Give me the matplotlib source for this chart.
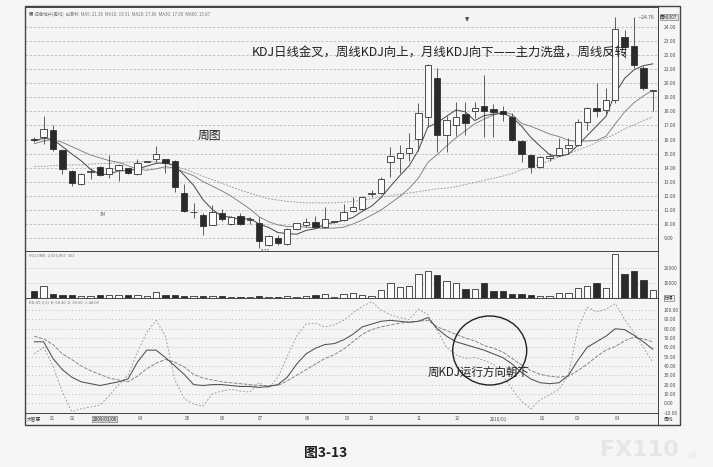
import numpy as np
import matplotlib.pyplot as plt
from matplotlib.patches import Rectangle, Ellipse
from matplotlib.lines import Line2D

plt.rcParams['font.family'] = ['Noto Sans CJK SC', 'DejaVu Sans']

# weekly candles
opens = [16.05, 16.2, 16.68, 15.26, 13.77, 12.84, 13.7, 14.03, 13.55, 13.84,
         13.96, 13.55, 14.42, 14.6, 14.6, 14.5, 12.18, 10.83, 10.64, 9.93,
         10.76, 10.0, 10.57, 10.27, 10.05, 8.51, 9.03, 8.58, 9.64, 9.91,
         10.12, 9.8, 10.15, 10.28, 10.92, 11.06, 12.15, 12.22, 14.43, 14.67,
         15.02, 16.02, 17.62, 20.35, 16.32, 17.03, 17.82, 18.03, 18.39, 18.17,
         18.03, 17.62, 15.9, 14.9, 14.03, 14.67, 14.9, 15.38, 15.61, 17.23,
         18.22, 18.1, 18.81, 23.27, 22.67, 21.11, 19.45]
highs = [16.2, 17.67, 17.03, 15.35, 13.85, 13.6, 13.96, 14.1, 14.9, 14.25,
         14.0, 14.6, 14.48, 15.56, 14.65, 14.55, 12.84, 11.5, 10.75, 11.35,
         11.1, 10.6, 10.8, 10.5, 10.5, 9.25, 9.2, 9.7, 10.1, 10.4,
         10.6, 11.23, 10.2, 11.45, 11.9, 12.0, 12.4, 13.36, 15.5, 15.6,
         16.44, 18.6, 21.35, 21.07, 17.7, 18.69, 18.69, 18.69, 20.59, 18.5,
         18.4, 17.9, 15.95, 14.95, 14.85, 15.05, 16.13, 16.1, 17.45, 18.3,
         20.0, 19.69, 24.69, 23.8, 24.73, 21.2, 19.5]
lows = [15.8, 15.68, 15.2, 13.55, 12.7, 12.75, 13.2, 13.4, 13.27, 13.08,
        13.55, 13.5, 14.4, 14.4, 13.64, 12.3, 10.85, 10.4, 9.22, 9.9,
        10.2, 9.95, 9.95, 9.98, 8.27, 8.45, 8.5, 8.5, 9.6, 9.8,
        9.7, 9.75, 10.1, 10.2, 10.85, 11.0, 11.9, 12.15, 13.36, 13.6,
        14.5, 15.2, 16.9, 15.14, 15.14, 16.25, 16.3, 17.5, 16.2, 16.2,
        17.3, 15.9, 14.43, 13.6, 14.0, 14.45, 14.85, 14.95, 15.55, 16.7,
        17.62, 17.8, 18.6, 21.77, 21.1, 19.5, 18.03]
closes = [16.0, 16.75, 15.31, 13.91, 12.93, 13.55, 13.74, 13.46, 13.96, 14.17,
          13.64, 14.31, 14.45, 14.97, 14.36, 12.65, 10.92, 10.87, 9.86, 10.83,
          10.33, 10.52, 10.0, 10.3, 8.81, 9.17, 8.67, 9.64, 10.05, 10.16,
          9.76, 10.35, 10.18, 10.83, 11.19, 11.94, 12.2, 13.18, 14.83, 15.02,
          15.42, 17.87, 21.3, 16.32, 17.39, 17.62, 17.2, 18.22, 18.05, 17.94,
          17.82, 15.97, 14.95, 14.07, 14.78, 14.85, 15.42, 15.61, 17.27, 18.27,
          18.03, 18.81, 23.86, 22.6, 21.3, 19.69, 19.45]

ma5 = [15.9, 16.1, 16.0, 15.5, 14.98, 14.49, 13.89, 13.52, 13.53, 13.78,
       13.79, 13.91, 14.11, 14.31, 14.35, 14.15, 13.47, 12.75, 11.73, 11.03,
       10.56, 10.48, 10.31, 10.40, 9.99, 9.76, 9.39, 9.32, 9.27, 9.54,
       9.66, 9.99, 10.10, 10.26, 10.46, 10.90, 11.27, 11.87, 12.67, 13.43,
       14.13, 15.26, 16.89, 17.19, 17.66, 18.10, 17.97, 17.35, 17.70, 17.81,
       17.85, 17.60, 16.95, 16.15, 15.52, 14.92, 14.81, 14.95, 15.59, 16.28,
       16.96, 17.64, 19.29, 20.35, 20.96, 21.25, 21.38]
ma10 = [15.7, 15.9, 16.0, 15.8, 15.5, 15.2, 14.9, 14.7, 14.5, 14.38,
        14.14, 13.90, 13.82, 13.92, 14.07, 13.97, 13.69, 13.43, 13.02, 12.69,
        12.36, 11.98, 11.53, 11.07, 10.51, 10.16, 9.94, 9.82, 9.84, 9.77,
        9.71, 9.69, 9.71, 9.77, 10.00, 10.28, 10.63, 10.99, 11.47, 11.95,
        12.52, 13.27, 14.38, 14.93, 15.55, 16.12, 16.62, 17.12, 17.45, 17.74,
        17.98, 17.79, 17.15, 16.93, 16.67, 16.39, 16.21, 15.95, 15.87, 15.90,
        15.94, 16.23, 17.12, 17.97, 18.62, 19.10, 19.51]
ma30 = [14.1, 14.1, 14.15, 14.2, 14.2, 14.2, 14.25, 14.3, 14.3, 14.35,
        14.4, 14.4, 14.45, 14.4, 14.3, 14.1, 13.9, 13.65, 13.4, 13.15,
        12.9, 12.65, 12.4, 12.2, 12.0, 11.8, 11.7, 11.6, 11.55, 11.5,
        11.5, 11.5, 11.5, 11.55, 11.6, 11.7, 11.8, 11.9, 12.0, 12.1,
        12.2, 12.3, 12.4, 12.5, 12.55, 12.65, 12.8, 12.95, 13.1, 13.25,
        13.4, 13.6, 13.85, 14.0, 14.25, 14.5, 14.75, 15.0, 15.25, 15.5,
        15.8, 16.1, 16.4, 16.75, 17.05, 17.35, 17.6]

volume = [4600, 8000, 2850, 1700, 1700, 1000, 1000, 1700, 2200, 2200,
          1700, 2200, 1200, 3900, 2200, 1700, 1200, 1000, 1000, 1000,
          1200, 900, 900, 900, 1000, 900, 900, 1000, 900, 1000,
          2200, 2800, 900, 2800, 3200, 2200, 1200, 5100, 9700, 6900,
          8000, 15700, 17900, 15200, 11200, 10000, 5800, 5800, 10000, 4600,
          4600, 2400, 2400, 2000, 1000, 1000, 3200, 3500, 6600, 7800,
          9700, 6600, 28800, 15900, 17900, 11900, 5500]

k_line = [66, 66, 48, 36, 28, 23, 21, 19, 21, 23,
          26, 44, 57, 57, 49, 40, 31, 20, 19, 20,
          20, 19, 18, 18, 17, 18, 20, 28, 42, 53,
          59, 63, 64, 68, 74, 82, 85, 88, 89, 88,
          87, 88, 92, 80, 72, 66, 63, 60, 57, 53,
          49, 42, 33, 26, 22, 21, 22, 30, 46, 60,
          66, 72, 80, 79, 73, 66, 58]
d_line = [72, 69, 63, 53, 47, 40, 35, 31, 27, 25,
          23, 29, 37, 43, 47, 44, 39, 31, 27, 25,
          23, 22, 21, 20, 19, 19, 19, 24, 30, 36,
          42, 48, 52, 58, 66, 74, 79, 82, 84, 86,
          87, 88, 89, 82, 78, 74, 70, 67, 62, 59,
          55, 48, 41, 35, 31, 29, 28, 29, 35, 42,
          50, 57, 61, 67, 71, 69, 66]
j_line = [53, 60, 40, 12, -9, -6, -4, -2, 8, 20,
          30, 55, 76, 89, 72, 25, 5, -1, -3, 10,
          13, 15, 13, 12, 22, 16, 28, 50, 72, 85,
          86, 82, 84, 89, 97, 104, 109, 100, 95, 92,
          90, 101, 95, 78, 60, 52, 48, 49, 46, 42,
          30, 15, 2, -6, 4, 9, 15, 30, 80, 103,
          98, 101, 107, 90, 76, 60, 44]

price_ticks = [9, 10, 11, 12, 13, 14, 15, 16, 17, 18, 19, 20, 21, 22, 23, 24]
vol_ticks = [10000, 20000]
kdj_ticks = [-10, 0, 10, 20, 30, 40, 50, 60, 70, 80, 90, 100]
date_pos = [1.9, 4.1, 11.3, 16.3, 20.1, 24.1, 29.1, 33.4, 36.0, 41.1, 45.1, 49.5, 54.2, 58.0, 62.2]
date_txt = ['01', '02', '04', '05', '06', '07', '08', '09', '10', '11', '12',
            '2010/01', '02', '03', '04']

W, H = 713, 467
BG = '#f6f6f6'


def px_rect(x0, y0, x1, y1):
    return [x0 / W, 1 - y1 / H, (x1 - x0) / W, (y1 - y0) / H]


def fx(x):
    return x / W


def fy(y):
    return 1 - y / H


fig = plt.figure(figsize=(W / 100, H / 100), dpi=100, facecolor=BG)
ax_p = fig.add_axes(px_rect(25, 7, 658, 251))
ax_v = fig.add_axes(px_rect(25, 251, 658, 298), sharex=ax_p)
ax_k = fig.add_axes(px_rect(25, 298, 658, 413), sharex=ax_p)
ax_d = fig.add_axes(px_rect(25, 413, 658, 425), sharex=ax_p)

n = len(closes)
x = np.arange(n)
o = np.array(opens)
c = np.array(closes)
down = c < o

for ax in (ax_p, ax_v, ax_k, ax_d):
    ax.set_facecolor('#f4f4f4')
    for s in ax.spines.values():
        s.set_color('#444')
        s.set_linewidth(0.7)
    ax.tick_params(axis='x', bottom=False, labelbottom=False)
    ax.yaxis.tick_right()
    ax.tick_params(axis='y', length=0, pad=4, labelsize=3.6, labelcolor='#555')
ax_p.set_xlim(-0.99, 66.56)

# price panel
ax_p.set_ylim(8.08, 25.42)
ax_p.set_yticks(price_ticks)
ax_p.set_yticklabels(['%.2f' % t for t in price_ticks])
ax_p.grid(axis='y', color='#bbbbbb', linestyle=(0, (3, 2)), linewidth=0.6)
ax_p.plot(x, ma30, color='#999', lw=0.65, ls=(0, (2, 1.5)), zorder=2)
ax_p.plot(x, ma10, color='#808080', lw=0.65, zorder=2)
ax_p.plot(x, ma5, color='#505050', lw=0.75, zorder=2)
ax_p.vlines(x, lows, highs, color='#444', lw=0.6, zorder=3)
body_h = np.maximum(np.abs(c - o), 0.05)
ax_p.bar(x, body_h, bottom=np.minimum(o, c), width=0.68,
         color=np.where(down, '#2a2a2a', '#fafafa'), edgecolor='#333',
         linewidth=0.6, zorder=4)
ax_p.text(64.4, highs[64] - 0.05, '—24.76', fontsize=3.5, color='#555', va='center')
ax_p.text(24.2, lows[24] - 0.08, '8.27', fontsize=3.3, color='#555', va='top')

# volume panel
ax_v.set_ylim(0, 30850)
ax_v.set_yticks(vol_ticks)
ax_v.set_yticklabels([str(t) for t in vol_ticks])
ax_v.grid(axis='y', color='#bbbbbb', linestyle=(0, (1, 2)), linewidth=0.6)
ax_v.bar(x, volume, width=0.68, color=np.where(down, '#2a2a2a', '#fafafa'),
         edgecolor='#333', linewidth=0.6, zorder=3)

# KDJ panel
ax_k.set_ylim(-10.5, 113)
ax_k.set_yticks(kdj_ticks)
ax_k.set_yticklabels(['%.2f' % t for t in kdj_ticks])
ax_k.grid(axis='y', color='#aaaaaa', linestyle=(0, (1, 3)), linewidth=0.6)
ax_k.plot(x, j_line, color='#999', lw=0.65, ls=(0, (2, 2)))
ax_k.plot(x, d_line, color='#808080', lw=0.65, ls=(0, (4, 1.5)))
ax_k.plot(x, k_line, color='#505050', lw=0.75)

# date strip
ax_d.set_ylim(0, 1)
ax_d.set_yticks([])
for p, t in zip(date_pos, date_txt):
    ax_d.text(p, 0.5, t, fontsize=3.3, color='#555', ha='center', va='center')
ax_d.text(7.5, 0.5, '2009/03/06', fontsize=3.3, color='#222', ha='center', va='center',
          bbox=dict(boxstyle='square,pad=0.15', fc='#d8d8d8', ec='#666', lw=0.4))
fig.text(fx(27), fy(419), '大智慧', fontsize=3.4, color='#444', va='center')

# outer frame and right scale column
fig.add_artist(Rectangle((fx(25), fy(425)), fx(680) - fx(25), fy(6) - fy(425),
                         transform=fig.transFigure, fill=False, ec='#444', lw=1.0))
fig.add_artist(Line2D([fx(658), fx(658)], [fy(6), fy(425)], transform=fig.transFigure,
                      color='#444', lw=0.7))
fig.text(fx(669), fy(17), '周线307', fontsize=3.4, color='#333', ha='center', va='center',
         bbox=dict(boxstyle='square,pad=0.15', fc='#e4e4e4', ec='#666', lw=0.4))
fig.text(fx(669), fy(298), '万得', fontsize=3.4, color='#333', ha='center', va='center',
         bbox=dict(boxstyle='square,pad=0.15', fc='#eeeeee', ec='#666', lw=0.4))
fig.text(fx(669), fy(419), '周线', fontsize=3.4, color='#444', ha='center', va='center')

# small header texts
fig.text(fx(29), fy(14), '■ 招商地产(周线)  前复权  MA5: 21.38  MA10: 19.51  MA20: 17.86  MA30: 17.60  MA60: 15.87',
         fontsize=3.2, color='#777', va='center')
fig.text(fx(29), fy(255), 'VOLUME: 2,596,857  301', fontsize=3.0, color='#777', va='center')
fig.text(fx(29), fy(302), 'KDJ(9,3,3)  K: 58.40  D: 65.60  J: 44.00', fontsize=3.0, color='#777', va='center')
fig.text(fx(467), fy(20), '▼', fontsize=4, color='#444', ha='center', va='center', family='DejaVu Sans')
fig.text(fx(103), fy(215), '3M', fontsize=3.2, color='#666', ha='center', va='center')

# annotations
fig.text(fx(252), fy(53), 'KDJ日线金叉，周线KDJ向上，月线KDJ向下——主力洗盘，周线反转',
         fontsize=8.9, color='#222', va='center')
fig.text(fx(198), fy(135), '周图', fontsize=8.5, color='#222', va='center')
fig.text(fx(428), fy(372), '周KDJ运行方向朝下', fontsize=8.3, color='#222', va='center')
fig.add_artist(Ellipse((fx(489.7), fy(350.5)), 74 / W, 69 / H, transform=fig.transFigure,
                       fill=False, ec='#222', lw=1.0))

fig.text(fx(326), fy(453), '图3-13', fontsize=10, fontweight='bold', color='#222',
         ha='center', va='center')
fig.text(fx(600), fy(450), 'FX110', fontsize=16, fontweight='bold', color='#e6e6e6',
         va='center', family='DejaVu Sans')
fig.text(fx(684), fy(455), '.uk', fontsize=6.5, color='#e6e6e6', va='center', family='DejaVu Sans')

fig.savefig('out.png', dpi=100, facecolor=BG)
